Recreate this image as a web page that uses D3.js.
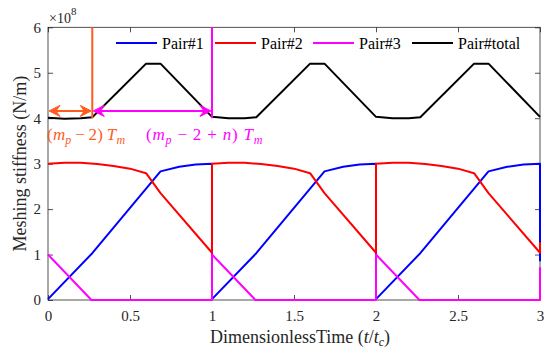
<!DOCTYPE html>
<meta charset="utf-8">
<script src="https://d3js.org/d3.v7.min.js"></script>
<style>
  body { margin: 0; background: #fff; }
</style>
<div id="chart"></div>
<script>
// ---- data (stiffness in units of 1e8 N/m, time t/tc) ----
var xTicks = [0, 0.5, 1, 1.5, 2, 2.5, 3];
var yTicks = [0, 1, 2, 3, 4, 5, 6];
var seriesNames = ["Pair#1", "Pair#2", "Pair#3", "Pair#total"];

var pair1 = [[0, 0.02], [0.27, 1.03], [0.686, 2.83], [0.8, 2.93], [0.9, 2.98], [1.0, 3.0], [1.0, 0.02],
  [1.27, 1.03], [1.686, 2.83], [1.8, 2.93], [1.9, 2.98], [2.0, 3.0], [2.0, 0.02],
  [2.27, 1.03], [2.686, 2.83], [2.8, 2.93], [2.9, 2.98], [3.0, 3.0], [3.0, 0.85]];

var pair2 = [[0, 3.0], [0.1, 3.02], [0.2, 3.02], [0.3, 2.99], [0.4, 2.95], [0.5, 2.89], [0.598, 2.79], [0.686, 2.35], [1.0, 1.04], [1.0, 3.0],
  [1.1, 3.02], [1.2, 3.02], [1.3, 2.99], [1.4, 2.95], [1.5, 2.89], [1.598, 2.79], [1.686, 2.35], [2.0, 1.04], [2.0, 3.0],
  [2.1, 3.02], [2.2, 3.02], [2.3, 2.99], [2.4, 2.95], [2.5, 2.89], [2.598, 2.79], [2.686, 2.35], [3.0, 1.04], [3.0, 1.27]];

var pair3 = [[0, 1.0], [0.265, 0], [1.0, 0], [1.0, 1.0], [1.265, 0], [2.0, 0], [2.0, 1.0], [2.265, 0], [3.0, 0], [3.0, 0.72]];

var pairTotal = [[0, 4.01], [0.1, 3.99], [0.2, 4.0], [0.27, 4.02], [0.598, 5.2], [0.686, 5.2], [1.0, 4.03],
  [1.1, 4.0], [1.2, 4.0], [1.27, 4.02], [1.598, 5.2], [1.686, 5.2], [2.0, 4.03],
  [2.1, 4.0], [2.2, 4.0], [2.27, 4.02], [2.598, 5.2], [2.686, 5.2], [3.0, 4.03]];

// annotation marks (t positions and level)
var markT = [0, 0.27, 1.0];
var arrowLevel = 4.16;

var colors = ["#0000ff", "#ff0000", "#ff00ff", "#000000"];
var orange = "#ff5b1e";
var serif = "Liberation Serif";

var width = 550, height = 351;
var svg = d3.select("#chart").append("svg")
  .attr("width", width)
  .attr("height", height)
  .style("font-family", serif);

var x = d3.scaleLinear().domain([0, 3]).range([48, 540]);
var y = d3.scaleLinear().domain([0, 6]).range([300, 27.3]);

var axisColor = "#262626";

// axes
var gx = svg.append("g")
  .attr("transform", "translate(0," + y(0) + ")")
  .call(d3.axisBottom(x).tickValues(xTicks).tickSize(-5).tickSizeOuter(0).tickPadding(10).tickFormat(d3.format("")));
var gxTop = svg.append("g")
  .attr("transform", "translate(0," + y(6) + ")")
  .call(d3.axisTop(x).tickValues(xTicks).tickSize(-5).tickSizeOuter(0).tickFormat(""));
var gy = svg.append("g")
  .attr("transform", "translate(" + x(0) + ",0)")
  .call(d3.axisLeft(y).tickValues(yTicks).tickSize(-5).tickSizeOuter(0).tickPadding(7).tickFormat(d3.format("")));
var gyRight = svg.append("g")
  .attr("transform", "translate(" + x(3) + ",0)")
  .call(d3.axisRight(y).tickValues(yTicks).tickSize(-5).tickSizeOuter(0).tickFormat(""));

[gx, gxTop, gy, gyRight].forEach(function (g) {
  g.attr("font-family", null).attr("font-size", null);
  g.select(".domain").remove();
  g.selectAll("line").attr("stroke", axisColor).attr("stroke-width", 0.8);
  g.selectAll("text")
    .attr("fill", axisColor)
    .style("font-family", serif)
    .style("font-size", "15px");
});

svg.append("rect")
  .attr("x", x(0)).attr("y", y(6))
  .attr("width", x(3) - x(0)).attr("height", y(0) - y(6))
  .attr("fill", "none").attr("stroke", axisColor).attr("stroke-width", 0.8);

// lines
var line = d3.line()
  .x(function (d) { return x(d[0]); })
  .y(function (d) { return y(d[1]); });

var allSeries = [pair1, pair2, pair3, pairTotal];
svg.append("g").selectAll("path")
  .data(allSeries)
  .enter()
  .append("path")
  .attr("d", line)
  .attr("fill", "none")
  .attr("stroke", function (d, i) { return colors[i]; })
  .attr("stroke-width", 2)
  .attr("stroke-linejoin", "round");

// exponent
var expo = svg.append("text")
  .attr("x", 49).attr("y", 23)
  .attr("fill", axisColor)
  .style("font-size", "14px");
expo.append("tspan").text("\u00d710");
expo.append("tspan").attr("dy", -8).style("font-size", "11px").text("8");

// legend
var legendX = [116, 215, 313, 412];
var legend = svg.append("g").selectAll("g")
  .data(seriesNames)
  .enter()
  .append("g")
  .attr("transform", function (d, i) { return "translate(" + legendX[i] + ",43)"; });
legend.append("line")
  .attr("x1", 0).attr("x2", 41)
  .attr("stroke", function (d, i) { return colors[i]; })
  .attr("stroke-width", 2);
legend.append("text")
  .attr("x", 46).attr("y", 5.5)
  .style("font-size", "16px")
  .text(function (d) { return d; });

// annotations: vertical markers
svg.append("line")
  .attr("x1", x(markT[1])).attr("x2", x(markT[1]))
  .attr("y1", y(6)).attr("y2", y(4.0))
  .attr("stroke", orange).attr("stroke-width", 2);
svg.append("line")
  .attr("x1", x(markT[2])).attr("x2", x(markT[2]))
  .attr("y1", y(6)).attr("y2", y(4.0))
  .attr("stroke", "#ff00ff").attr("stroke-width", 2);

// double arrows
function doubleArrow(t0, t1, col) {
  var x0 = x(t0) + 1, x1 = x(t1) - 1, yy = y(arrowLevel);
  svg.append("line")
    .attr("x1", x0 + 4).attr("x2", x1 - 4)
    .attr("y1", yy).attr("y2", yy)
    .attr("stroke", col).attr("stroke-width", 2);
  var head = function (tip, dir) {
    return "M" + tip + "," + yy +
      "L" + (tip + dir * 11) + "," + (yy - 5.5) +
      "L" + (tip + dir * 7) + "," + yy +
      "L" + (tip + dir * 11) + "," + (yy + 5.5) + "Z";
  };
  svg.append("path").attr("d", head(x0, 1)).attr("fill", col).attr("stroke", col).attr("stroke-width", 1);
  svg.append("path").attr("d", head(x1, -1)).attr("fill", col).attr("stroke", col).attr("stroke-width", 1);
}
doubleArrow(markT[0], markT[1], orange);
doubleArrow(markT[1], markT[2], "#ff00ff");

// annotation labels
function mathLabel(xPos, parts, col, spacing) {
  var t = svg.append("text")
    .attr("x", xPos).attr("y", 140)
    .attr("fill", col)
    .attr("letter-spacing", spacing)
    .style("font-size", "17px");
  parts.forEach(function (p) {
    var s = t.append("tspan").text(p[0]);
    if (p[1] === "i") s.style("font-style", "italic");
    if (p[1] === "sub") s.style("font-style", "italic").style("font-size", "12px").attr("dy", 4);
    if (p[1] === "up") s.attr("dy", -4);
  });
}
mathLabel(47, [["(", ""], ["m", "i"], ["p", "sub"], ["\u2009\u2212\u20092)\u2009", "up"], ["T", "i"], ["m", "sub"]], orange, 0.2);
mathLabel(146, [["(", ""], ["m", "i"], ["p", "sub"], [" \u2212 2 + ", "up"], ["n", "i"], [") ", ""], ["T", "i"], ["m", "sub"]], "#ff00ff", 0.8);

// axis titles
var xl = svg.append("text")
  .attr("x", 300).attr("y", 343)
  .attr("text-anchor", "middle")
  .attr("fill", axisColor)
  .style("font-size", "18px");
xl.append("tspan").text("DimensionlessTime (");
xl.append("tspan").style("font-style", "italic").text("t");
xl.append("tspan").text("/");
xl.append("tspan").style("font-style", "italic").text("t");
xl.append("tspan").style("font-style", "italic").style("font-size", "12px").attr("dy", 3).text("c");
xl.append("tspan").attr("dy", -3).text(")");

svg.append("text")
  .attr("transform", "translate(26," + ((y(0) + y(6)) / 2) + ") rotate(-90)")
  .attr("text-anchor", "middle")
  .attr("fill", axisColor)
  .style("font-size", "18px")
  .text("Meshing stiffness (N/m)");
</script>
